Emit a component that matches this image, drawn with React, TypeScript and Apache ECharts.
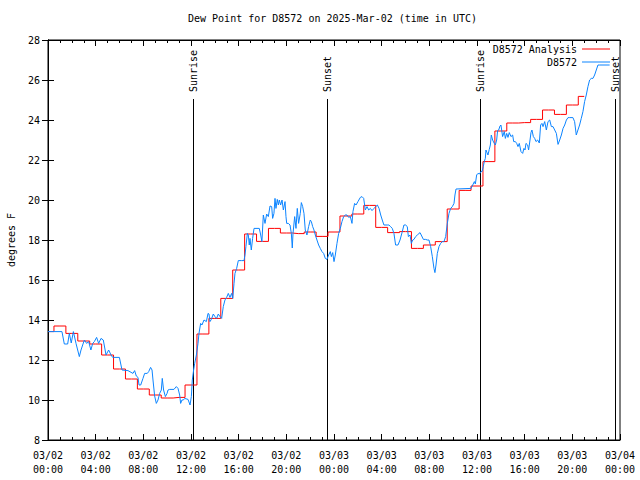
import React, { useEffect, useRef } from 'react';
import * as echarts from 'echarts';

// Hourly analysis values (hours since 03/02 00:00 UTC)
const redHours = [
  0, 1, 2, 3, 4, 5, 6, 7, 8, 9, 10, 11, 12, 13, 14, 15, 16, 17, 18, 19, 20, 21, 22, 23,
  24, 25, 26, 27, 28, 29, 30, 31, 32, 33, 34, 35, 36, 37, 38, 39, 40, 41, 42, 43, 44, 45,
];
const redValues = [
  13.42, 13.7, 13.33, 12.95, 12.8, 12.25, 11.55, 11.05, 10.55, 10.25, 10.1, 10.13, 10.75, 13.3,
  14.08, 15.08, 16.5, 18.3, 17.93, 18.58, 18.35, 18.32, 18.4, 18.18, 18.4, 19.2, 19.3, 19.73,
  18.63, 18.37, 18.42, 17.58, 17.75, 17.92, 19.55, 20.48, 20.7, 21.92, 23.45, 23.85, 23.87,
  24.03, 24.5, 24.28, 24.75, 25.18,
];

// Observed station values
const blueHours = [
  0.0, 1.17, 1.37, 1.65, 1.79, 1.95, 2.13, 2.35, 2.63, 2.77, 3.05, 3.24, 3.41, 3.6, 3.75, 3.89,
  4.08, 4.25, 4.45, 4.64, 4.87, 5.09, 5.29, 5.43, 5.99, 6.21, 6.71, 7.13, 7.27, 7.41, 7.55, 7.64,
  7.78, 7.97, 8.11, 8.33, 8.45, 8.61, 8.73, 8.81, 8.95, 9.09, 9.23, 9.37, 9.51, 9.59, 9.7, 9.85,
  9.99, 10.07, 10.21, 10.57, 10.77, 10.91, 11.05, 11.13, 11.24, 11.36, 11.47, 11.75, 11.92,
  12.03, 12.11, 12.22, 12.31, 12.45, 12.59, 12.67, 12.81, 12.92, 13.09, 13.29, 13.43, 13.51,
  13.59, 13.71, 13.87, 14.01, 14.15, 14.29, 14.43, 14.57, 14.71, 14.85, 14.99, 15.13, 15.27,
  15.41, 15.5, 15.61, 15.69, 15.83, 15.97, 16.25, 16.45, 16.53, 16.61, 16.73, 16.81, 16.89,
  16.95, 17.06, 17.17, 17.29, 17.73, 17.85, 17.95, 18.07, 18.21, 18.35, 18.49, 18.63, 18.77,
  18.85, 18.96, 19.05, 19.13, 19.24, 19.33, 19.41, 19.52, 19.64, 19.75, 19.89, 19.97, 20.03,
  20.17, 20.31, 20.42, 20.5, 20.56, 20.7, 20.81, 20.92, 21.03, 21.17, 21.26, 21.37, 21.48,
  21.59, 21.73, 21.87, 22.01, 22.1, 22.21, 22.32, 22.43, 22.57, 22.71, 22.85, 22.99, 23.13,
  23.27, 23.41, 23.55, 23.69, 23.78, 23.89, 24.0, 24.11, 24.25, 24.39, 24.53, 24.67, 24.81,
  24.95, 25.09, 25.23, 25.37, 25.51, 25.59, 25.73, 25.85, 26.01, 26.21, 26.35, 26.49, 26.63,
  26.77, 26.91, 27.05, 27.19, 27.36, 27.5, 27.64, 27.78, 27.92, 28.05, 28.19, 28.47, 28.61,
  28.75, 28.89, 29.03, 29.17, 29.37, 29.54, 29.73, 29.87, 30.01, 30.15, 30.24, 30.38, 30.49,
  30.6, 30.71, 30.85, 30.99, 31.22, 31.36, 31.5, 31.69, 31.83, 31.97, 32.11, 32.25, 32.39,
  32.47, 32.56, 32.67, 32.81, 32.95, 33.09, 33.23, 33.37, 33.51, 33.65, 33.79, 33.93, 34.07,
  34.15, 34.24, 35.5, 35.64, 35.78, 35.86, 35.97, 36.08, 36.2, 36.33, 36.42, 36.53, 36.61,
  36.7, 36.75, 36.84, 36.92, 37.03, 37.12, 37.2, 37.31, 37.45, 37.54, 37.65, 37.73, 37.82,
  37.93, 38.01, 38.15, 38.29, 38.38, 38.49, 38.6, 38.71, 38.85, 38.99, 39.08, 39.22, 39.33,
  39.44, 39.55, 39.69, 39.83, 39.94, 40.03, 40.11, 40.25, 40.33, 40.45, 40.53, 40.61, 40.73,
  40.84, 40.95, 41.09, 41.23, 41.34, 41.45, 41.54, 41.68, 41.82, 41.96, 42.1, 42.24, 42.38,
  42.52, 42.66, 42.8, 42.94, 43.08, 43.22, 43.36, 43.5, 43.64, 43.78, 44.05, 44.19, 44.33,
  44.47, 44.61, 44.75, 44.89, 45.03, 45.17, 45.31, 45.45, 45.59, 45.73, 45.87, 46.01, 46.15,
  46.3, 47.13,
];
const blueValues = [
  13.42, 13.42, 12.8, 12.8, 13.33, 12.85, 13.42, 12.83, 12.17, 12.5, 13.0, 12.83, 12.92, 12.5,
  12.83, 12.92, 13.13, 12.83, 13.08, 13.0, 12.25, 12.5, 12.25, 12.13, 12.13, 11.5, 11.47, 11.33,
  11.47, 11.2, 11.13, 10.75, 10.75, 11.08, 11.33, 11.33, 11.42, 11.63, 11.5, 11.0, 10.2, 9.83,
  10.0, 10.33, 10.5, 11.08, 10.5, 10.17, 10.33, 10.5, 10.53, 10.53, 10.67, 10.58, 10.25, 9.83,
  10.0, 10.0, 10.08, 10.03, 9.75, 10.17, 11.0, 11.5, 11.83, 12.25, 12.83, 13.33, 13.83, 13.75,
  14.0, 13.92, 14.33, 14.3, 13.92, 14.03, 14.3, 14.17, 14.08, 14.3, 14.17, 14.08, 14.67, 15.0,
  15.13, 15.33, 15.13, 15.33, 15.08, 15.83, 16.33, 16.58, 16.97, 16.97, 16.97, 17.25, 17.67,
  18.33, 18.25, 17.75, 18.08, 17.5, 18.08, 18.58, 18.58, 18.25, 17.92, 19.25, 18.83, 19.3,
  19.17, 19.7, 19.67, 19.08, 19.33, 20.08, 19.58, 20.03, 19.75, 20.0, 19.75, 20.0, 19.5, 19.92,
  19.17, 18.83, 18.83, 18.75, 18.33, 17.6, 18.33, 19.17, 18.58, 19.58, 18.83, 19.33, 19.87,
  19.67, 19.33, 18.5, 18.25, 18.67, 19.0, 18.92, 18.67, 18.5, 18.25, 18.0, 17.75, 17.58, 17.42,
  17.33, 17.08, 17.03, 17.25, 17.42, 17.17, 17.37, 16.92, 17.25, 17.83, 18.33, 18.58, 18.92,
  19.17, 19.25, 19.25, 19.13, 19.17, 18.83, 19.42, 19.83, 19.75, 19.92, 20.13, 20.17, 20.08,
  19.5, 19.67, 19.5, 19.58, 19.47, 19.58, 19.67, 19.75, 19.58, 19.25, 19.0, 18.75, 18.75, 18.75,
  18.67, 18.58, 18.33, 17.75, 17.75, 18.0, 18.42, 18.75, 18.75, 18.67, 18.17, 18.25, 17.83,
  18.0, 18.03, 18.17, 18.25, 18.37, 18.2, 18.03, 18.03, 18.0, 18.0, 17.67, 17.17, 16.58, 16.37,
  16.75, 17.33, 17.67, 17.83, 17.92, 17.92, 18.17, 18.83, 19.33, 19.58, 19.67, 19.83, 20.25,
  20.55, 20.58, 20.75, 20.92, 20.8, 21.25, 21.33, 21.3, 21.42, 21.42, 21.67, 21.92, 22.08, 22.5,
  22.37, 22.25, 22.53, 22.75, 23.25, 23.0, 22.83, 22.75, 23.0, 23.47, 23.5, 23.7, 23.75, 23.17,
  23.42, 23.08, 23.33, 23.13, 23.37, 23.17, 23.25, 22.92, 22.92, 22.83, 22.67, 22.83, 22.42,
  22.33, 22.58, 22.5, 22.83, 22.75, 22.5, 23.0, 23.37, 23.5, 23.17, 23.08, 22.92, 23.0, 22.85,
  23.75, 23.83, 23.67, 23.92, 23.5, 23.92, 24.0, 23.67, 23.67, 23.5, 23.33, 22.78, 23.0, 23.25,
  23.58, 23.75, 24.0, 24.12, 24.12, 24.12, 23.92, 23.25, 23.5, 23.75, 24.08, 24.42, 24.92,
  25.25, 25.67, 26.0, 26.08, 26.08, 26.25, 26.5, 26.75, 26.75, 26.75,
];

const xTickDates = ['03/02', '03/02', '03/02', '03/02', '03/02', '03/02', '03/03', '03/03', '03/03', '03/03', '03/03', '03/03', '03/04'];
const xTickTimes = ['00:00', '04:00', '08:00', '12:00', '16:00', '20:00', '00:00', '04:00', '08:00', '12:00', '16:00', '20:00', '00:00'];

const sunNames = ['Sunrise', 'Sunset', 'Sunrise', 'Sunset'];
const sunHours = [12.19, 23.44, 36.28, 47.58];

const FONT = '"DejaVu Sans Mono", monospace';
const RED = '#ff0000';
const BLUE = '#0c84ff';

export default function App() {
  const ref = useRef<HTMLDivElement>(null);
  useEffect(() => {
    document.body.style.margin = '0';
    if (!ref.current) return;
    const chart = echarts.init(ref.current, undefined, { renderer: 'svg' });
    const txt = { fontFamily: FONT, fontSize: 10, color: '#000' };
    const axisCommon = {
      axisLine: { show: true, lineStyle: { color: '#000', width: 1 } },
      axisTick: { show: true, inside: true, length: 6, lineStyle: { color: '#000' } },
      splitLine: { show: false },
    };
    chart.setOption({
      animation: false,
      backgroundColor: '#fff',
      title: {
        text: 'Dew Point for D8572 on 2025-Mar-02 (time in UTC)',
        left: 188,
        top: 13,
        padding: 0,
        textStyle: { ...txt, fontWeight: 'normal' },
      },
      legend: {
        orient: 'vertical',
        right: 30,
        top: 43,
        align: 'right',
        icon: 'rect',
        itemWidth: 28,
        itemHeight: 1,
        itemGap: 1,
        padding: 0,
        selectedMode: false,
        textStyle: { ...txt, lineHeight: 12 },
        data: ['D8572 Analysis', 'D8572'],
      },
      grid: {
        left: 48, right: 20, top: 40, bottom: 40, show: true, borderColor: '#000', borderWidth: 1,
        containLabel: false, outerBoundsMode: 'none',
      },
      xAxis: [
        {
          type: 'value', min: 0, max: 48, interval: 4, ...axisCommon,
          minorTick: { show: true, splitNumber: 4, length: 3, lineStyle: { color: '#000' } },
          minorSplitLine: { show: false },
          axisLabel: {
            ...txt, margin: 8, lineHeight: 14,
            formatter: (v: number) => {
              const i = Math.round(v / 4);
              return xTickDates[i] + '\n' + xTickTimes[i];
            },
          },
        },
        {
          type: 'value', position: 'top', min: 0, max: 48, interval: 4, ...axisCommon,
          minorTick: { show: true, splitNumber: 4, length: 3, lineStyle: { color: '#000' } },
          axisLabel: { show: false },
        },
      ],
      yAxis: [
        {
          type: 'value', min: 8, max: 28, interval: 2, ...axisCommon,
          name: 'degrees F', nameLocation: 'middle', nameGap: 32, nameTextStyle: { ...txt },
          axisLabel: { ...txt, margin: 8 },
        },
        {
          type: 'value', position: 'right', min: 8, max: 28, interval: 2, ...axisCommon,
          axisLabel: { show: false },
        },
      ],
      series: [
        {
          name: 'D8572 Analysis', type: 'line', step: 'middle', showSymbol: false,
          data: redHours.map((h, i) => [h, redValues[i]]),
          lineStyle: { color: RED, width: 1 }, itemStyle: { color: RED },
        },
        {
          name: 'D8572', type: 'line', showSymbol: false,
          data: blueHours.map((h, i) => [h, blueValues[i]]),
          lineStyle: { color: BLUE, width: 1 }, itemStyle: { color: BLUE },
        },
      ],
    });
    const bottom = chart.convertToPixel({ yAxisIndex: 0 }, 8) as number;
    const graphics: any[] = [];
    sunHours.forEach((h, i) => {
      const px = Math.round(chart.convertToPixel({ xAxisIndex: 0 }, h) as number) + 0.5;
      graphics.push({
        type: 'line', silent: true,
        shape: { x1: px, y1: 99, x2: px, y2: bottom },
        style: { stroke: '#000', lineWidth: 1 },
      });
      graphics.push({
        type: 'text', silent: true, x: px, y: 92, rotation: Math.PI / 2,
        style: { text: sunNames[i], font: '10px ' + FONT, fill: '#000', align: 'left', verticalAlign: 'middle' },
      });
    });
    chart.setOption({ graphic: graphics });
    return () => chart.dispose();
  }, []);
  return <div ref={ref} style={{ width: 640, height: 480 }} />;
}
